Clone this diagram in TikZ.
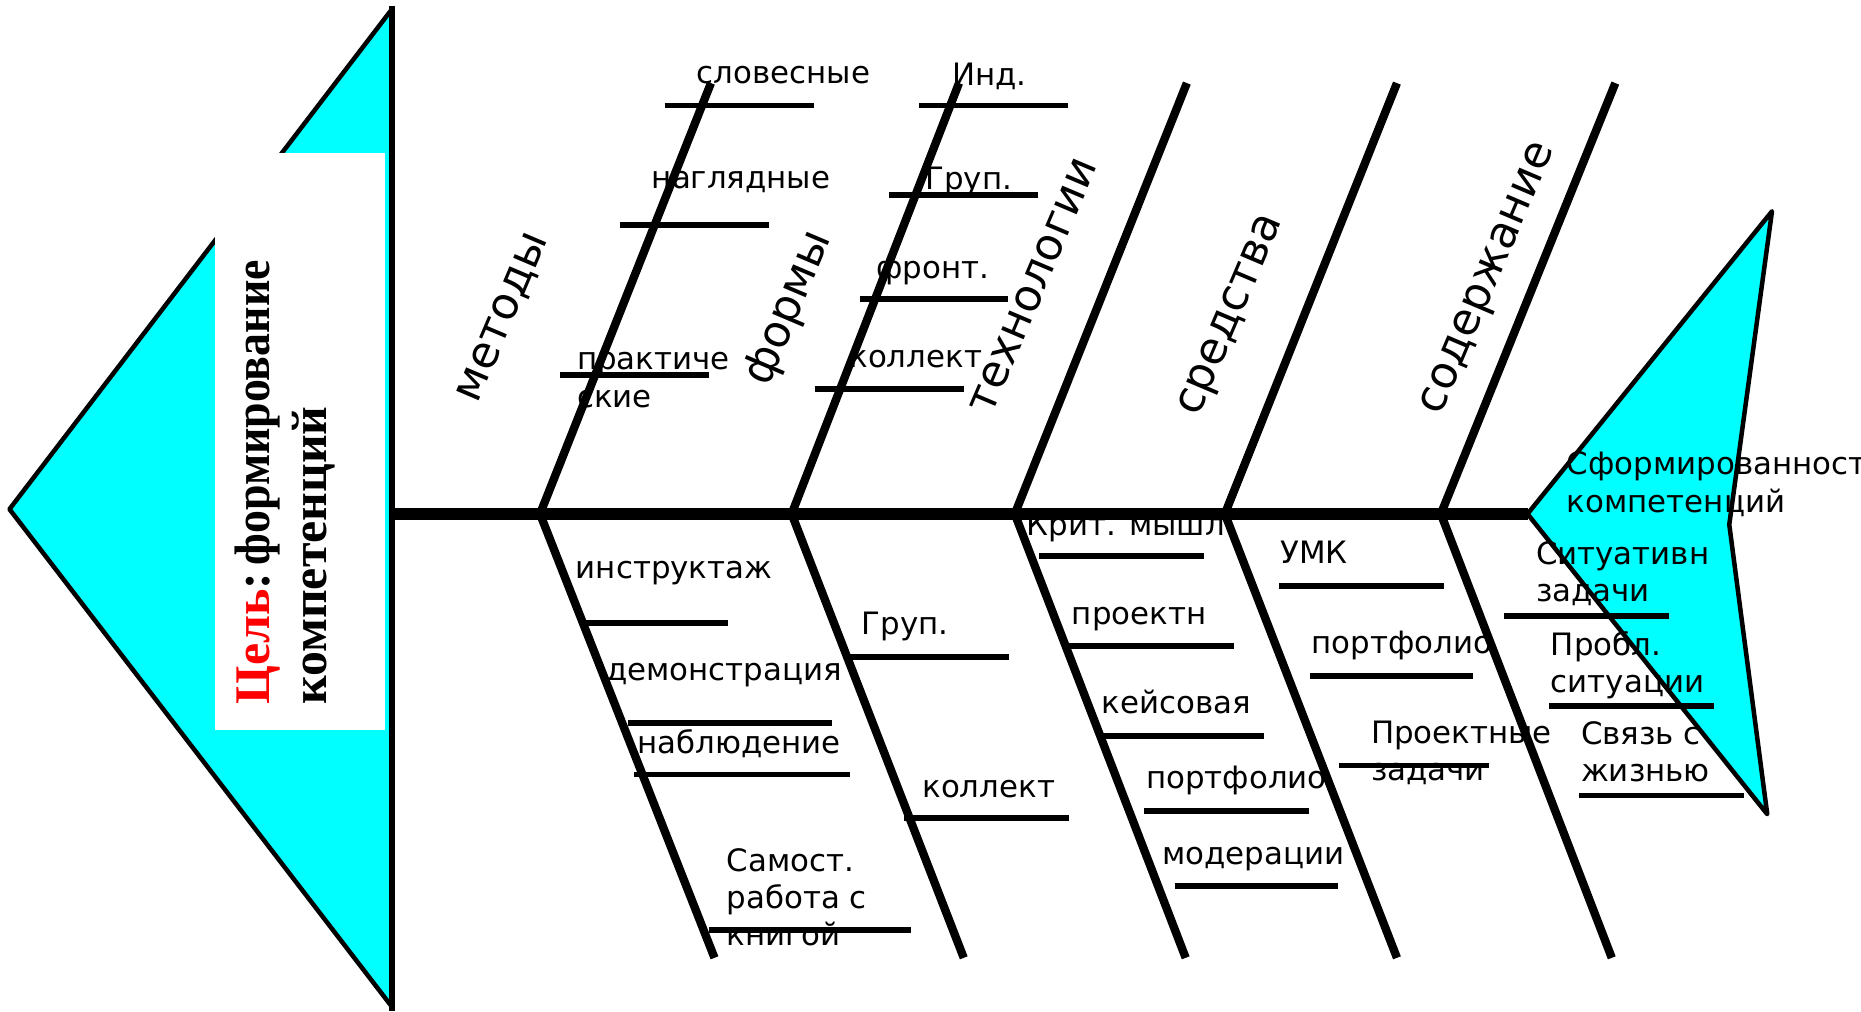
\documentclass[tikz,border=0pt]{standalone}
\usepackage{fontspec}
\usepackage{graphicx}
\setmainfont{DejaVu Sans}
\newfontfamily\goalfont{Liberation Serif}
\definecolor{fishcyan}{RGB}{0,255,255}
\newcommand\lns[1]{\begin{tabular}[t]{@{}l@{}}#1\end{tabular}}
\begin{document}
\begin{tikzpicture}[x=1pt,y=-1pt,
  lbl/.style={font=\fontsize{26}{31.5}\selectfont, anchor=base west, inner sep=0pt},
  cat/.style={font=\fontsize{37.5}{44}\selectfont, rotate=67, inner sep=0pt},
  spine/.style={line width=9.5pt},
  rib/.style={line width=7pt},
  twig/.style={line width=4.8pt},
  fishhead/.style={fill=fishcyan, draw=black, line width=3.8pt, line join=round}]
\useasboundingbox (0,0) rectangle (1568,852);
% tail (goal) triangle
\draw[fishhead] (8,429) -- (330,8) -- (330,848) -- cycle;
\fill[white] (181,129) rectangle (324.5,615);
\node[font=\goalfont\bfseries\fontsize{42}{48}\selectfont, rotate=90, anchor=base west, inner sep=0pt]
  (goal) at (226.7,594) {\lns{\textcolor{red}{Цель}:\hspace{0.15em}\scalebox{0.92}[1]{формирование}\\компетенций}};
% head triangle
\draw[fishhead] (1287,433) -- (1493,178) -- (1457,442) -- (1489,686) -- cycle;
% category labels
\node[cat] (c1) at (425,268) {методы};
\node[cat] (c2) at (665,260) {формы};
\node[cat] (c3) at (871,241) {технологии};
\node[cat] (c4) at (1039,266) {средства};
\node[cat] (c5) at (1255.5,235.5) {содержание};
% upper labels
\node[lbl] (u1) at (587,70.4) {словесные};
\node[lbl] (u2) at (549,158.7) {наглядные};
\node[lbl] (u3) at (486,311.7) {\lns{практиче\\ские}};
\node[lbl] (u4) at (802,72) {Инд.};
\node[lbl] (u5) at (779.5,159.3) {Груп.};
\node[lbl] (u6) at (738,234.7) {фронт.};
\node[lbl] (u7) at (715.5,310) {коллект};
% lower labels
\node[lbl] (l1) at (485,487) {инструктаж};
\node[lbl] (l2) at (510.5,573.6) {демонстрация};
\node[lbl] (l3) at (537,634.8) {наблюдение};
\node[lbl] (l4) at (612,734) {\lns{Самост.\\работа с\\книгой}};
\node[lbl] (l5) at (726,535) {Груп.};
\node[lbl] (l6) at (777,671.8) {коллект};
\node[lbl] (l7) at (865,451.5) {Крит. мышл};
\node[lbl] (l8) at (903,526) {проектн};
\node[lbl] (l9) at (928,601.3) {кейсовая};
\node[lbl] (l10) at (965.5,664.1) {портфолио};
\node[lbl] (l11) at (979,728.3) {модерации};
\node[lbl] (l12) at (1078.5,474.8) {УМК};
\node[lbl] (l13) at (1105,550.5) {портфолио};
\node[lbl] (l14) at (1155,626.4) {\lns{Проектные\\задачи}};
\node[lbl] (h1) at (1320,400.2) {\lns{Сформированност\\компетенций}};
\node[lbl] (h2) at (1294,475.2) {\lns{Ситуативн\\задачи}};
\node[lbl] (h3) at (1306.5,552.2) {\lns{Пробл.\\ситуации}};
\node[lbl] (h4) at (1332,627) {\lns{Связь с\\жизнью}};
% spine and ribs
\coordinate (tailend) at (330,433);
\coordinate (headtip) at (1287,433);
\draw[spine] (tailend) -- (headtip);
\foreach \b/\t/\e in {455/599/602, 667/808/812, 855/1000/999, 1032/1177/1177, 1214/1361/1358}{
  \draw[rib] (\t,70) -- (\b,433) -- (\e,807);
}
% branches
\foreach \a/\c/\y in {560/686/88.9, 522/648/189.5, 471.5/597/316, 774.3/900/88.9, 749.2/874.8/164,
  724.3/849.6/252, 686.3/812/327.5,
  491/613.4/524.7, 528.8/700.7/609.2, 534.4/716.2/652.6, 597.6/767.6/783.5,
  715/850.4/553.8, 762/901/689.4,
  875.8/1014.7/468.4, 900.8/1039.7/544.3, 924.8/1064.6/619.9, 963.8/1102.5/683.1, 989.7/1127.6/746.2,
  1077.6/1216.4/493.5, 1103.5/1241.4/569.3, 1128.5/1254.3/645,
  1267/1406/519, 1305/1444/594.7, 1330.7/1469.4/670.3}{
  \draw[twig] (\a,\y) -- (\c,\y);
}
% tail back line
\draw[line width=5pt] (330,5) -- (330,852);
\end{tikzpicture}
\end{document}
